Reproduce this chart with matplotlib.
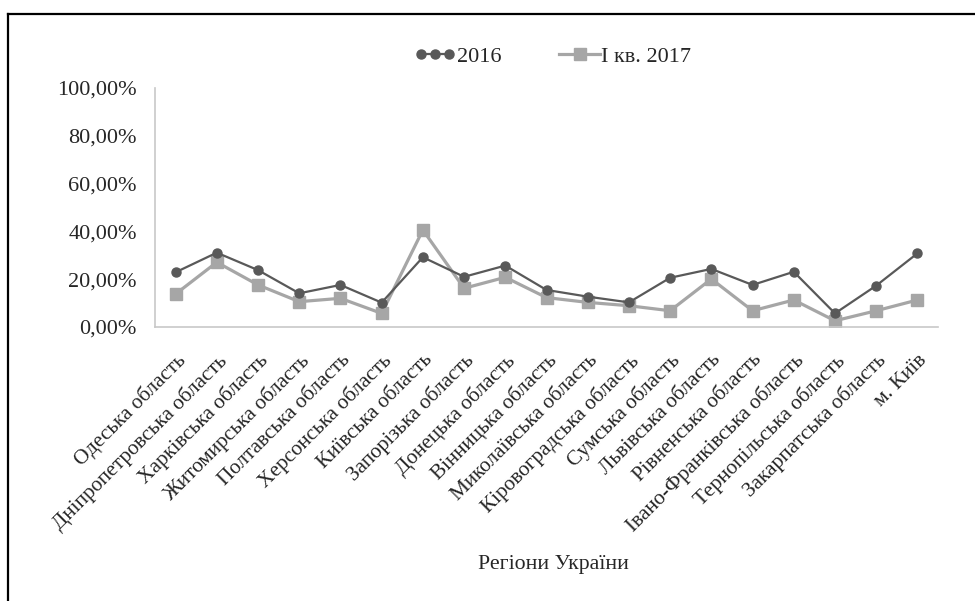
import matplotlib
matplotlib.use("Agg")
import matplotlib.pyplot as plt
from matplotlib.lines import Line2D
from matplotlib.legend_handler import HandlerLine2D
from matplotlib.ticker import FuncFormatter

plt.rcParams['font.family'] = ['Liberation Serif', 'DejaVu Serif']

regions = ["Одеська область", "Дніпропетровська область", "Харківська область",
           "Житомирська область", "Полтавська область", "Херсонська область",
           "Київська область", "Запорізька область", "Донецька область",
           "Вінницька область", "Миколаївська область", "Кіровоградська область",
           "Сумська область", "Львівська область", "Рівненська область",
           "Івано-Франківська область", "Тернопільська область",
           "Закарпатська область", "м. Київ"]
values_2016 = [22.9, 31.1, 23.8, 14.1, 17.6, 10.2, 29.2, 21.0, 25.7,
               15.5, 12.7, 10.3, 20.6, 24.3, 17.6, 23.1, 5.7, 17.3, 30.8]
values_2017q1 = [13.8, 27.1, 17.6, 10.6, 12.0, 5.7, 40.6, 16.2, 20.8,
                 12.3, 10.3, 8.9, 6.8, 20.1, 6.8, 11.3, 2.6, 6.8, 11.3]
series_labels = ["2016", "І кв. 2017"]
y_ticks = [0, 20, 40, 60, 80, 100]
x_title = "Регіони України"

W, H = 975, 601
fig = plt.figure(figsize=(W / 100, H / 100), dpi=100)
ax = fig.add_axes([155 / W, 1 - 327 / H, (938 - 155) / W, (327 - 88) / H])

x = list(range(len(regions)))
dark = "#595959"
light = "#a6a6a6"
ax.plot(x, values_2017q1, color=light, lw=2.3, marker="s", ms=8.5,
        markeredgecolor=light, markerfacecolor=light, label=series_labels[1], zorder=2)
ax.plot(x, values_2016, color=dark, lw=1.6, marker="o", ms=6.5,
        markeredgecolor=dark, markerfacecolor=dark, label=series_labels[0], zorder=3)

ax.set_xlim(-0.5, len(regions) - 0.5)
ax.set_ylim(0, 100)
ax.set_yticks(y_ticks)
ax.yaxis.set_major_formatter(FuncFormatter(lambda v, p: f"{v:.2f}%".replace(".", ",")))
ax.set_xticks(x)
ax.set_xticklabels(regions, rotation=45, ha="right", va="top",
                   rotation_mode="anchor", fontsize=15.3)
ax.tick_params(axis="x", length=0, pad=17)
ax.tick_params(axis="y", length=0, pad=13, labelsize=16)
for lab in ax.get_yticklabels():
    lab.set_color("#262626")
for lab in ax.get_xticklabels():
    lab.set_color("#262626")

for s in ["top", "right"]:
    ax.spines[s].set_visible(False)
for s in ["left", "bottom"]:
    ax.spines[s].set_color("#c8c8c8")
    ax.spines[s].set_linewidth(1.2)

h1 = Line2D([], [], color=dark, lw=1.6, marker="o", ms=6.5)
h2 = Line2D([], [], color=light, lw=2.3, marker="s", ms=8.5)
leg = fig.legend([h1, h2], series_labels, loc="center", bbox_to_anchor=(553 / W, 1 - 57 / H),
                 ncol=2, frameon=False, fontsize=16, handlelength=1.85,
                 handletextpad=0.05, columnspacing=2.6,
                 handler_map={h1: HandlerLine2D(numpoints=3), h2: HandlerLine2D(numpoints=1)})
for t in leg.get_texts():
    t.set_color("#262626")

fig.text(553 / W, 1 - 565 / H, x_title, ha="center", va="center",
         fontsize=15.7, color="#262626")

# outer frame (cropped at right and bottom)
fig.add_artist(Line2D([8 / W, 8 / W], [0, 1 - 14 / H], transform=fig.transFigure,
                      color="black", lw=1.6))
fig.add_artist(Line2D([8 / W, 1], [1 - 14 / H, 1 - 14 / H], transform=fig.transFigure,
                      color="black", lw=1.6))

fig.savefig("out.png", dpi=100)
